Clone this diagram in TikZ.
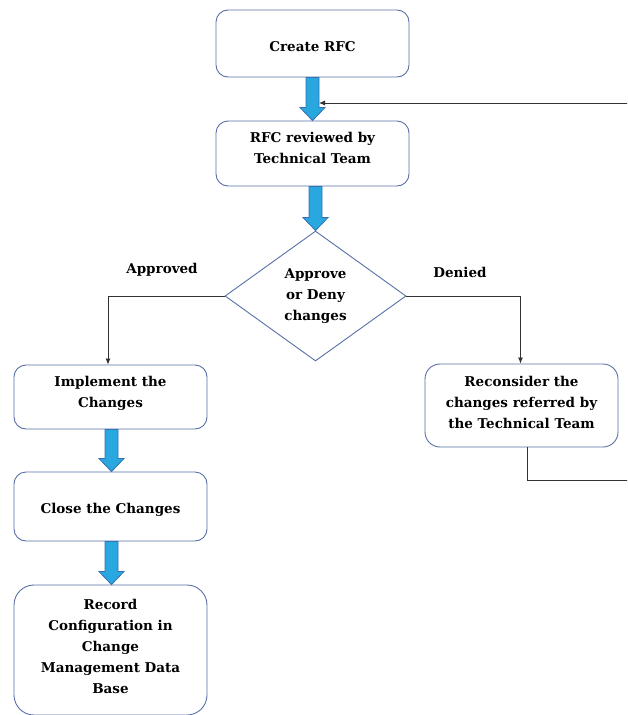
\documentclass[tikz,border=0pt]{standalone}
\usepackage{fontspec}
\setmainfont{DejaVu Serif}
\usetikzlibrary{shapes.geometric,arrows.meta,calc}
\definecolor{boxline}{RGB}{88,112,165}
\definecolor{arrfill}{RGB}{41,168,224}
\definecolor{arrline}{RGB}{55,110,180}
\definecolor{conn}{RGB}{50,50,50}
\newcommand\boxtxt[2]{\raisebox{#1}[\height][\depth]{\begin{tabular}{@{}c@{}}#2\end{tabular}}}
\tikzset{
  stepbox/.style={draw=boxline, line width=0.9pt, fill=white, rounded corners=12pt,
    minimum width=193pt, align=center, inner sep=0pt,
    font=\fontsize{13.5}{21}\selectfont\bfseries},
  decision/.style={draw=boxline, line width=0.9pt, diamond, aspect=1.39, inner sep=0pt,
    minimum width=181pt, minimum height=130pt, align=center,
    font=\fontsize{13.5}{21}\selectfont\bfseries},
  lbl/.style={font=\fontsize{13.5}{16}\selectfont\bfseries, inner sep=0pt},
  conline/.style={draw=conn, line width=0.8pt},
  tip/.style={-{Latex[length=6pt,width=5pt]}},
  blockarrow/.style={draw=arrline, line width=0.8pt, fill=arrfill, line join=miter}
}
\begin{document}
\begin{tikzpicture}[x=1pt,y=-1pt]
\useasboundingbox (0,0) rectangle (627,715);
\clip (0,0) rectangle (627,715);
\node[stepbox, minimum height=67pt] (create) at (312.5,43.5) {\boxtxt{-3.5pt}{Create RFC}};
\node[stepbox, minimum height=65pt] (review) at (312.5,153.5) {\boxtxt{4.5pt}{RFC reviewed by\\Technical Team}};
\node[decision] (dec) at (315.5,296) {Approve\\or Deny\\changes};
\node[stepbox, minimum height=64pt] (impl) at (110.5,397) {\boxtxt{4pt}{Implement the\\Changes}};
\node[stepbox, minimum height=69pt] (close) at (110.5,506.5) {\boxtxt{-2.5pt}{Close the Changes}};
\node[stepbox, minimum height=130pt, rounded corners=20pt] (record) at (110.5,650) {\boxtxt{3pt}{Record\\Configuration in\\Change\\Management Data\\Base}};
\node[stepbox, minimum height=83pt, rounded corners=15pt] (recon) at (521.5,405.5) {\boxtxt{2pt}{Reconsider the\\changes referred by\\the Technical Team}};
\node[lbl] (appr) at (162,270) {Approved};
\node[lbl] (deny) at (460,272) {Denied};
\coordinate (fb) at (319,103);
% block arrows
\draw[blockarrow] ($(create.south)+(-6.5,0)$) -- ($(review.north)+(-6.5,-13)$) -- ($(review.north)+(-12.5,-13)$) -- (review.north)
    -- ($(review.north)+(12.5,-13)$) -- ($(review.north)+(6.5,-13)$) -- ($(create.south)+(6.5,0)$) -- cycle;
\coordinate (rs) at (review.south -| dec.north);
\draw[blockarrow] ($(rs)+(-6.5,0)$) -- ($(dec.north)+(-6.5,-13)$) -- ($(dec.north)+(-12.5,-13)$) -- (dec.north)
    -- ($(dec.north)+(12.5,-13)$) -- ($(dec.north)+(6.5,-13)$) -- ($(rs)+(6.5,0)$) -- cycle;
\coordinate (is) at ($(impl.south)+(1,0)$);
\coordinate (ct) at ($(close.north)+(1,0)$);
\draw[blockarrow] ($(is)+(-6.5,0)$) -- ($(ct)+(-6.5,-13)$) -- ($(ct)+(-12.5,-13)$) -- (ct)
    -- ($(ct)+(12.5,-13)$) -- ($(ct)+(6.5,-13)$) -- ($(is)+(6.5,0)$) -- cycle;
\coordinate (cs) at ($(close.south)+(1,0)$);
\coordinate (rt) at ($(record.north)+(1,0)$);
\draw[blockarrow] ($(cs)+(-6.5,0)$) -- ($(rt)+(-6.5,-13)$) -- ($(rt)+(-12.5,-13)$) -- (rt)
    -- ($(rt)+(12.5,-13)$) -- ($(rt)+(6.5,-13)$) -- ($(cs)+(6.5,0)$) -- cycle;
% connectors
\draw[conline, tip] (dec.west) -| ($(impl.north)+(-2.5,0)$);
\draw[conline, tip] (dec.east) -| ($(recon.north)+(-1,0)$);
\draw[conline, tip] ($(recon.south)+(5.5,0)$) |- (660,480) |- (fb);
\end{tikzpicture}
\end{document}
